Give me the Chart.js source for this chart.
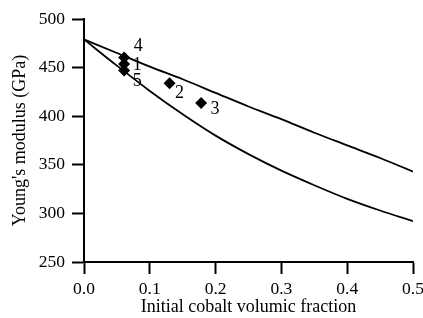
<!DOCTYPE html>
<html>
<head>
<meta charset="utf-8">
<script src="https://cdn.jsdelivr.net/npm/chart.js@4"></script>
<style>
html,body{margin:0;padding:0;background:#fff;}
#wrap{width:423px;height:318px;}
</style>
</head>
<body>
<div id="wrap"><canvas id="c" width="423" height="318"></canvas></div>
<script>
// Curve abscissae (cobalt volumic fraction)
const curveX = [0, 0.05, 0.1, 0.15, 0.2, 0.25, 0.3, 0.35, 0.4, 0.45, 0.5];
// Upper bound curve (GPa)
const upperY = [479, 465, 451, 438, 424, 410, 397, 383, 370, 357, 343];
// Lower bound curve (GPa)
const lowerY = [479, 452, 426, 402, 380, 361, 344, 329, 315, 303, 292];
// Measured samples
const sampleX = [0.061, 0.13, 0.178, 0.061, 0.061];
const sampleY = [453.7, 434, 413.5, 460.4, 447];
const sampleLabels = ["1", "2", "3", "4", "5"];
// Tick labels
const xTicks = [0, 0.1, 0.2, 0.3, 0.4, 0.5];
const yTicks = [250, 300, 350, 400, 450, 500];

const FONT = "'Liberation Serif', 'Times New Roman', serif";
// label offsets in pixels relative to each diamond
const labelOffsets = [[13, 1], [10, 10], [14, 6], [14, -11], [13, 11]];

const labelPlugin = {
  id: 'sampleLabels',
  afterDatasetsDraw(chart) {
    const ctx = chart.ctx;
    const xs = chart.scales.x, ys = chart.scales.y;
    ctx.save();
    ctx.font = "18px " + FONT;
    ctx.fillStyle = "#000";
    ctx.textAlign = "center";
    ctx.textBaseline = "middle";
    sampleX.forEach((x, i) => {
      const px = xs.getPixelForValue(x) + labelOffsets[i][0];
      const py = ys.getPixelForValue(sampleY[i]) + labelOffsets[i][1];
      ctx.fillText(sampleLabels[i], px, py);
    });
    ctx.restore();
  }
};

new Chart(document.getElementById('c'), {
  type: 'scatter',
  data: {
    datasets: [
      {
        label: 'upper',
        data: curveX.map((x, i) => ({x: x, y: upperY[i]})),
        showLine: true, borderColor: '#000', borderWidth: 1.8,
        pointRadius: 0, cubicInterpolationMode: 'monotone', fill: false
      },
      {
        label: 'lower',
        data: curveX.map((x, i) => ({x: x, y: lowerY[i]})),
        showLine: true, borderColor: '#000', borderWidth: 1.8,
        pointRadius: 0, cubicInterpolationMode: 'monotone', fill: false
      },
      {
        label: 'samples',
        data: sampleX.map((x, i) => ({x: x, y: sampleY[i]})),
        pointStyle: 'rectRot', pointRadius: 6,
        backgroundColor: '#000', borderColor: '#000', borderWidth: 0
      }
    ]
  },
  options: {
    responsive: false,
    animation: false,
    layout: {padding: {top: 19, right: 10, left: 0, bottom: 0}},
    plugins: {legend: {display: false}, tooltip: {enabled: false}},
    scales: {
      x: {
        type: 'linear', min: 0, max: 0.5,
        afterBuildTicks: (s) => { s.ticks = xTicks.map(v => ({value: v})); },
        afterFit: (s) => { s.height = 56; s.paddingRight = 0; s.paddingLeft = 0; },
        ticks: {
          color: '#000', font: {family: FONT, size: 17.5}, padding: 5,
          maxRotation: 0, callback: (v) => Number(v).toFixed(1)
        },
        grid: {drawOnChartArea: false, drawTicks: true, tickLength: 12, tickColor: '#000', tickWidth: 2},
        border: {color: '#000', width: 2},
        title: {display: true, text: 'Initial cobalt volumic fraction', color: '#000',
                font: {family: FONT, size: 18}, padding: {top: 0, bottom: 0}}
      },
      y: {
        type: 'linear', min: 250, max: 500,
        afterBuildTicks: (s) => { s.ticks = yTicks.map(v => ({value: v})); },
        afterFit: (s) => { s.width = 84; s.paddingTop = 0; s.paddingBottom = 0; },
        ticks: {color: '#000', font: {family: FONT, size: 17.5}, padding: 7},
        grid: {drawOnChartArea: false, drawTicks: true, tickLength: 12, tickColor: '#000', tickWidth: 2},
        border: {color: '#000', width: 2},
        title: {display: true, text: "Young's modulus (GPa)", color: '#000',
                font: {family: FONT, size: 18}, padding: {top: 9, bottom: 0}}
      }
    }
  },
  plugins: [labelPlugin]
});
</script>
</body>
</html>
